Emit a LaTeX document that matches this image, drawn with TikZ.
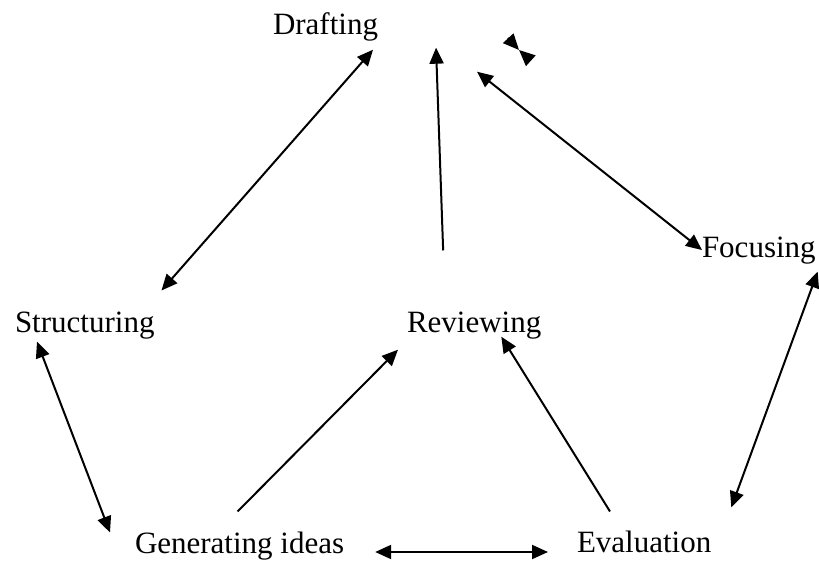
\documentclass[tikz,border=0pt]{standalone}
\usepackage{fontspec}
\setmainfont{Liberation Serif}
\usetikzlibrary{arrows.meta}

\begin{document}
\begin{tikzpicture}[
      x=1pt,y=-1pt,
      lbl/.style={inner sep=0pt,outer sep=0pt,anchor=base west,
        font=\fontsize{31}{37}\selectfont},
      link/.style={line width=2pt,line cap=butt},
      arrow/.style={link,-{Triangle[length=16pt,width=14pt]}},
      dbl/.style={link,{Triangle[length=16pt,width=14pt]}-{Triangle[length=16pt,width=14pt]}}
    ]
      \useasboundingbox (0,0) rectangle (819,561);
      \node[lbl] (draft) at (273,35) {Drafting};
      \node[lbl] (focus) at (702,258) {Focusing};
      \node[lbl] (struct) at (15,332) {Structuring};
      \node[lbl] (review) at (407,332) {Reviewing};
      \node[lbl] (ideas) at (135,553) {Generating ideas};
      \node[lbl] (eval) at (577,552) {Evaluation};
      \coordinate (stub) at (519,50);
      \draw[dbl] ([shift={(-5,8)}]draft.south east) -- ([shift={(7,-21)}]struct.north east);
      \draw[arrow] ([shift={(-31,-61)}]review.north) -- ([shift={(58,6)}]draft.south east);
      \draw[dbl] ([shift={(99,30)}]draft.south east) -- ([shift={(0,-1)}]focus.west);
      \draw[dbl] ([shift={(2,7)}]focus.south east) -- ([shift={(20,-23)}]eval.north east);
      \draw[dbl] ([shift={(22,3)}]struct.south west) -- ([shift={(-25,1)}]ideas.north west);
      \draw[arrow] ([shift={(-2,-20)}]ideas.north) -- ([shift={(-9,11)}]review.south west);
      \draw[arrow] ([shift={(33,-19)}]eval.north west) -- ([shift={(-40,-2)}]review.south east);
      \draw[dbl] ([shift={(31,-1)}]ideas.base east) -- ([shift={(-29,0)}]eval.base west);
      \draw[arrow] ([shift={(-11,-12)}]stub) -- (stub);
      \draw[arrow] ([shift={(11,10)}]stub) -- (stub);
    \end{tikzpicture}
\end{document}
